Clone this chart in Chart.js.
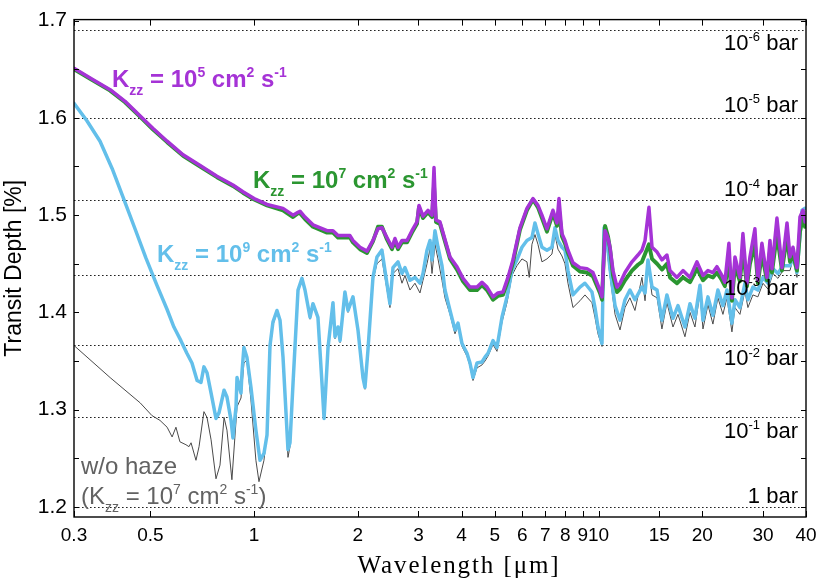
<!DOCTYPE html>
<html>
<head>
<meta charset="utf-8">
<script src="https://cdn.jsdelivr.net/npm/chart.js@4.4.1/dist/chart.umd.min.js"></script>
<style>
  html, body { margin: 0; padding: 0; background: #fff; }
  canvas { display: block; }
</style>
</head>
<body>
<canvas id="graficoTransito" width="830" height="583"></canvas>
<script>
/* ================= DADOS ================= */

// comprimento de onda (um) dos modelos com névoa Kzz = 1e5 e 1e7
const wlHaze = [
  0.300, 0.338, 0.382, 0.422, 0.467, 0.509, 0.559, 0.622, 0.697, 0.780,
  0.868, 0.928, 1.000, 1.090, 1.213,
  1.297, 1.341, 1.359, 1.405, 1.482, 1.628, 1.694, 1.752, 1.898, 1.936,
  2.029, 2.126, 2.213, 2.288, 2.350, 2.430, 2.513, 2.564, 2.616, 2.687,
  2.779, 2.872, 2.970, 3.010, 3.092, 3.197, 3.284, 3.328, 3.372, 3.464,
  3.581, 3.704, 3.881, 4.040, 4.233, 4.436, 4.586, 4.742, 4.937, 5.104,
  5.277, 5.456, 5.641, 5.911, 6.194, 6.448, 6.667, 6.848, 7.080, 7.370,
  7.571, 7.673, 7.828, 7.987, 8.149, 8.426, 8.829, 9.252, 9.631, 10.09,
  10.23, 10.44, 10.65, 10.79, 11.01, 11.31, 11.54, 11.93, 12.50, 13.01,
  13.36, 13.64, 14.00, 14.29, 14.78, 15.27, 15.79, 16.11, 16.88, 17.58,
  18.42, 19.30, 20.09, 20.77, 21.47, 22.05, 22.80, 23.26, 23.89, 24.38,
  24.88, 25.72, 26.24, 26.95, 27.50, 28.43, 29.00, 29.79, 30.81, 31.44,
  31.86, 32.94, 34.06, 35.23, 35.94, 36.67, 37.66, 38.42, 39.21, 39.73
];

const tdKzz5 = [
  1.651, 1.640, 1.629, 1.617, 1.602, 1.589, 1.576, 1.562, 1.551, 1.540,
  1.531, 1.524, 1.517, 1.511, 1.507,
  1.500, 1.503, 1.504, 1.498, 1.490, 1.484, 1.484, 1.479, 1.479, 1.474,
  1.467, 1.463, 1.474, 1.486, 1.487, 1.477, 1.467, 1.476, 1.467, 1.474,
  1.474, 1.484, 1.493, 1.510, 1.499, 1.505, 1.500, 1.549, 1.495, 1.493,
  1.475, 1.457, 1.447, 1.435, 1.426, 1.426, 1.431, 1.426, 1.416, 1.420,
  1.421, 1.436, 1.454, 1.487, 1.507, 1.517, 1.510, 1.500, 1.486, 1.505,
  1.492, 1.517, 1.481, 1.474, 1.464, 1.451, 1.446, 1.445, 1.441, 1.423,
  1.416, 1.484, 1.476, 1.467, 1.443, 1.426, 1.430, 1.441, 1.452, 1.459,
  1.464, 1.474, 1.508, 1.467, 1.462, 1.454, 1.459, 1.443, 1.436, 1.443,
  1.436, 1.452, 1.438, 1.443, 1.441, 1.447, 1.438, 1.431, 1.471, 1.415,
  1.457, 1.436, 1.481, 1.430, 1.457, 1.486, 1.433, 1.471, 1.436, 1.474,
  1.445, 1.497, 1.446, 1.492, 1.457, 1.467, 1.446, 1.498, 1.505, 1.493
];

const tdKzz7 = [
  1.650, 1.639, 1.628, 1.616, 1.601, 1.588, 1.575, 1.561, 1.550, 1.539,
  1.530, 1.523, 1.516, 1.510, 1.505,
  1.498, 1.502, 1.502, 1.496, 1.488, 1.482, 1.482, 1.477, 1.477, 1.472,
  1.465, 1.461, 1.473, 1.488, 1.488, 1.475, 1.465, 1.474, 1.465, 1.472,
  1.472, 1.482, 1.491, 1.508, 1.497, 1.503, 1.498, 1.530, 1.493, 1.491,
  1.473, 1.455, 1.444, 1.432, 1.423, 1.423, 1.428, 1.423, 1.413, 1.417,
  1.418, 1.433, 1.451, 1.485, 1.505, 1.516, 1.508, 1.497, 1.483, 1.502,
  1.489, 1.505, 1.478, 1.471, 1.461, 1.448, 1.442, 1.441, 1.437, 1.420,
  1.413, 1.489, 1.478, 1.466, 1.438, 1.421, 1.424, 1.433, 1.443, 1.449,
  1.452, 1.460, 1.470, 1.455, 1.450, 1.444, 1.450, 1.436, 1.430, 1.436,
  1.431, 1.445, 1.433, 1.438, 1.436, 1.441, 1.433, 1.427, 1.455, 1.412,
  1.448, 1.432, 1.465, 1.427, 1.450, 1.470, 1.430, 1.460, 1.433, 1.463,
  1.441, 1.480, 1.443, 1.478, 1.452, 1.460, 1.443, 1.483, 1.498, 1.488
];

// modelo Kzz = 1e9
const wlKzz9 = [
  0.300, 0.327, 0.357, 0.387, 0.419, 0.451, 0.485, 0.522, 0.559, 0.585,
  0.613, 0.638, 0.660,
  0.683, 0.701, 0.715, 0.730, 0.750, 0.775, 0.791, 0.818, 0.834, 0.857,
  0.868, 0.886, 0.892, 0.916, 0.922, 0.934, 0.953, 0.979, 1.012, 1.040,
  1.068, 1.090, 1.112, 1.134, 1.165, 1.189, 1.213, 1.254, 1.271, 1.297,
  1.341, 1.377, 1.405, 1.453, 1.482, 1.532, 1.574, 1.596, 1.639, 1.694,
  1.717, 1.752, 1.776, 1.835, 1.873, 1.936, 2.002, 2.070, 2.098, 2.140,
  2.213, 2.273, 2.350, 2.398, 2.479, 2.530, 2.616, 2.687, 2.741, 2.834,
  2.930, 3.030, 3.092, 3.176, 3.240, 3.284, 3.350, 3.418, 3.510, 3.581,
  3.704, 3.829, 3.907, 4.013, 4.149, 4.233, 4.319, 4.436, 4.586, 4.679,
  4.774, 4.937, 5.070, 5.242, 5.420, 5.604, 5.794, 5.991, 6.194, 6.405,
  6.535, 6.667, 6.848, 7.080, 7.321, 7.470, 7.621, 7.828, 7.987, 8.149,
  8.426, 8.829, 9.129, 9.566, 9.760, 9.958, 10.23, 10.37, 10.58, 10.79,
  11.16, 11.54, 11.93, 12.33, 12.75, 13.36, 13.64, 13.91, 14.29, 14.78,
  15.27, 15.79, 16.44, 17.00, 17.81, 18.42, 19.04, 19.69, 20.09, 20.77,
  21.47, 22.20, 22.96, 23.58, 24.38, 24.88, 25.72, 26.59, 27.13, 28.05,
  29.00, 30.00, 31.02, 32.07, 33.16, 34.29, 35.94, 36.67, 37.66, 38.95,
  39.73
];

const tdKzz9 = [
  1.615, 1.597, 1.576, 1.548, 1.516, 1.486, 1.456, 1.428, 1.403, 1.385,
  1.371, 1.358, 1.348,
  1.330, 1.328, 1.344, 1.338, 1.317, 1.291, 1.297, 1.320, 1.313, 1.289,
  1.271, 1.303, 1.333, 1.317, 1.338, 1.364, 1.354, 1.323, 1.279, 1.248,
  1.255, 1.274, 1.366, 1.390, 1.402, 1.392, 1.354, 1.259, 1.266, 1.327,
  1.423, 1.435, 1.423, 1.395, 1.409, 1.395, 1.327, 1.291, 1.364, 1.410,
  1.375, 1.385, 1.371, 1.421, 1.402, 1.416, 1.382, 1.333, 1.323, 1.361,
  1.436, 1.457, 1.464, 1.443, 1.409, 1.446, 1.452, 1.440, 1.446, 1.433,
  1.436, 1.430, 1.440, 1.464, 1.474, 1.454, 1.484, 1.467, 1.448, 1.423,
  1.402, 1.382, 1.389, 1.368, 1.358, 1.348, 1.333, 1.348, 1.349, 1.354,
  1.358, 1.371, 1.364, 1.395, 1.416, 1.443, 1.454, 1.467, 1.474, 1.477,
  1.492, 1.481, 1.467, 1.464, 1.467, 1.487, 1.474, 1.467, 1.464, 1.443,
  1.418, 1.426, 1.430, 1.421, 1.405, 1.385, 1.368, 1.487, 1.474, 1.445,
  1.407, 1.392, 1.413, 1.423, 1.413, 1.426, 1.420, 1.454, 1.426, 1.423,
  1.392, 1.418, 1.394, 1.407, 1.385, 1.409, 1.394, 1.428, 1.392, 1.416,
  1.397, 1.423, 1.407, 1.423, 1.389, 1.413, 1.405, 1.430, 1.413, 1.426,
  1.423, 1.436, 1.430, 1.445, 1.440, 1.448, 1.448, 1.459, 1.441, 1.505,
  1.507
];

// sem névoa (Kzz = 1e7)
const wlClear = [
  0.300, 0.382, 0.467, 0.505, 0.533, 0.559, 0.578, 0.593, 0.609, 0.634,
  0.647, 0.656, 0.678, 0.692, 0.715, 0.730, 0.750, 0.775, 0.796, 0.818,
  0.834, 0.862, 0.892, 0.916, 0.934, 0.953, 0.979, 1.012, 1.033, 1.068,
  1.090, 1.112, 1.134, 1.165, 1.189, 1.213, 1.254, 1.271, 1.297, 1.341,
  1.377, 1.405, 1.453, 1.482, 1.532, 1.574, 1.596, 1.639, 1.694, 1.717,
  1.752, 1.776, 1.835, 1.873, 1.936, 2.002, 2.070, 2.098, 2.140, 2.213,
  2.273, 2.350, 2.398, 2.479, 2.530, 2.616, 2.687, 2.741, 2.834, 2.930,
  3.030, 3.092, 3.176, 3.240, 3.284, 3.350, 3.418, 3.510, 3.581, 3.704,
  3.829, 3.907, 4.013, 4.149, 4.233, 4.319, 4.436, 4.586, 4.679, 4.774,
  4.937, 5.070, 5.242, 5.420, 5.604, 5.794, 5.991, 6.194, 6.290, 6.405,
  6.535, 6.667, 6.848, 7.080, 7.321, 7.470, 7.621, 7.828, 7.987, 8.149,
  8.426, 8.829, 9.129, 9.566, 9.760, 9.958, 10.23, 10.37, 10.58, 10.79,
  11.16, 11.54, 11.93, 12.33, 12.75, 13.36, 13.64, 13.91, 14.29, 14.78,
  15.27, 15.79, 16.44, 17.00, 17.81, 18.42, 19.04, 19.69, 20.09, 20.77,
  21.47, 22.20, 22.96, 23.58, 24.38, 24.88, 25.72, 26.59, 27.13, 28.05,
  29.00, 30.00, 31.02, 32.07, 33.16, 34.29, 35.94, 36.67, 37.66, 38.95,
  39.73
];

const tdClear = [
  1.366, 1.333, 1.307, 1.294, 1.289, 1.282, 1.272, 1.282, 1.267, 1.264,
  1.262, 1.266, 1.248, 1.262, 1.298, 1.292, 1.269, 1.229, 1.243, 1.292,
  1.279, 1.228, 1.303, 1.312, 1.348, 1.351, 1.310, 1.248, 1.226, 1.248,
  1.276, 1.361, 1.387, 1.400, 1.390, 1.350, 1.251, 1.262, 1.325, 1.421,
  1.433, 1.421, 1.393, 1.407, 1.393, 1.325, 1.290, 1.362, 1.408, 1.373,
  1.383, 1.369, 1.419, 1.400, 1.414, 1.380, 1.331, 1.321, 1.359, 1.433,
  1.450, 1.455, 1.436, 1.405, 1.440, 1.445, 1.430, 1.438, 1.423, 1.430,
  1.420, 1.433, 1.450, 1.465, 1.440, 1.470, 1.455, 1.433, 1.415, 1.398,
  1.378, 1.386, 1.365, 1.355, 1.345, 1.330, 1.343, 1.346, 1.350, 1.355,
  1.367, 1.360, 1.390, 1.410, 1.438, 1.448, 1.455, 1.452, 1.436, 1.470,
  1.480, 1.470, 1.452, 1.455, 1.460, 1.480, 1.465, 1.458, 1.450, 1.430,
  1.405, 1.412, 1.418, 1.410, 1.395, 1.378, 1.365, 1.480, 1.465, 1.438,
  1.398, 1.382, 1.405, 1.415, 1.402, 1.436, 1.412, 1.450, 1.418, 1.415,
  1.383, 1.410, 1.385, 1.398, 1.375, 1.400, 1.385, 1.420, 1.383, 1.408,
  1.388, 1.415, 1.398, 1.415, 1.380, 1.405, 1.398, 1.422, 1.405, 1.418,
  1.416, 1.430, 1.424, 1.440, 1.435, 1.443, 1.443, 1.455, 1.436, 1.500,
  1.503
];

// eixos
const xTicks = [0.3, 0.5, 1, 2, 3, 4, 5, 6, 7, 8, 9, 10, 15, 20, 30, 40];
const xTickLabels = ["0.3", "0.5", "1", "2", "3", "4", "5", "6", "7", "8", "9", "10", "15", "20", "30", "40"];
const yTicks = [1.2, 1.25, 1.3, 1.35, 1.4, 1.45, 1.5, 1.55, 1.6, 1.65, 1.7];

// níveis de pressão (profundidade de trânsito correspondente)
const pressureDepth = [1.6904, 1.5996, 1.5152, 1.4389, 1.366, 1.2924, 1.2003];
const pressureExp = ["-6", "-5", "-4", "-3", "-2", "-1", ""];

/* ================= UTIL ================= */

const FONT = "'Liberation Sans', Arial, Helvetica, sans-serif";
const SERIF = "'Liberation Serif', 'Times New Roman', serif";

function pontos(xs, ys) {
  return xs.map((x, i) => ({ x, y: ys[i] }));
}

// texto com sub/sobrescrito: partes = [[texto, "n"|"sup"|"sub"], ...]
function textoRico(ctx, partes, x, y, size, weight, color, align) {
  const fonte = p => `${weight} ${p[1] === "n" ? size : Math.round(size * 0.6)}px ${FONT}`;
  let total = 0;
  partes.forEach(p => { ctx.font = fonte(p); total += ctx.measureText(p[0]).width; });
  let cx = align === "right" ? x - total : x;
  ctx.fillStyle = color;
  ctx.textAlign = "left";
  ctx.textBaseline = "alphabetic";
  partes.forEach(p => {
    ctx.font = fonte(p);
    const dy = p[1] === "sup" ? -size * 0.4 : p[1] === "sub" ? size * 0.32 : 0;
    ctx.fillText(p[0], cx, y + dy);
    cx += ctx.measureText(p[0]).width;
  });
}

function rotuloKzz(exp) {
  return [["K", "n"], ["zz", "sub"], [" = 10", "n"], [exp, "sup"], [" cm", "n"], ["2", "sup"], [" s", "n"], ["-1", "sup"]];
}

/* ================= PLUGINS ================= */

const linhasPressao = {
  id: "linhasPressao",
  beforeDatasetsDraw(chart) {
    const { ctx, chartArea: a, scales: { y } } = chart;
    ctx.save();
    ctx.strokeStyle = "#222";
    ctx.lineWidth = 1.2;
    ctx.setLineDash([1.6, 2.4]);
    pressureDepth.forEach(v => {
      const py = Math.round(y.getPixelForValue(v)) + 0.5;
      ctx.beginPath();
      ctx.moveTo(a.left, py);
      ctx.lineTo(a.right, py);
      ctx.stroke();
    });
    ctx.restore();
  },
  afterDatasetsDraw(chart) {
    const { ctx, chartArea: a, scales: { y } } = chart;
    const desloc = [20, -6, -4, 20, 20, 21, -4];
    ctx.save();
    pressureDepth.forEach((v, i) => {
      const py = y.getPixelForValue(v) + desloc[i];
      const partes = pressureExp[i]
        ? [["10", "n"], [pressureExp[i], "sup"], [" bar", "n"]]
        : [["1 bar", "n"]];
      textoRico(ctx, partes, a.right - 8, py, 22, "normal", "#000", "right");
    });
    ctx.restore();
  }
};

const moldura = {
  id: "moldura",
  afterDraw(chart) {
    const { ctx, chartArea: a, scales: { x, y } } = chart;
    ctx.save();
    ctx.strokeStyle = "#000";
    ctx.lineWidth = 1.4;
    ctx.strokeRect(a.left, a.top, a.right - a.left, a.bottom - a.top);
    ctx.lineWidth = 1;
    ctx.beginPath();
    yTicks.forEach(v => {
      const py = Math.round(y.getPixelForValue(v)) + 0.5;
      ctx.moveTo(a.left, py); ctx.lineTo(a.left + 5, py);
      ctx.moveTo(a.right, py); ctx.lineTo(a.right - 5, py);
    });
    xTicks.forEach(v => {
      const px = Math.round(x.getPixelForValue(v)) + 0.5;
      ctx.moveTo(px, a.bottom); ctx.lineTo(px, a.bottom - 6);
      ctx.moveTo(px, a.top); ctx.lineTo(px, a.top + 6);
    });
    ctx.stroke();

    // anotações
    textoRico(ctx, rotuloKzz("5"), 112, 87, 24, "bold", "#a533d6");
    textoRico(ctx, rotuloKzz("7"), 253, 188, 24, "bold", "#2b9631");
    textoRico(ctx, rotuloKzz("9"), 157, 262, 24, "bold", "#63bfea");
    textoRico(ctx, [["w/o haze", "n"]], 81, 474, 24, "normal", "#626262");
    textoRico(ctx, [["(K", "n"], ["zz", "sub"], [" = 10", "n"], ["7", "sup"], [" cm", "n"], ["2", "sup"], [" s", "n"], ["-1", "sup"], [")", "n"]],
      81, 504, 24, "normal", "#626262");

    // título do eixo x
    ctx.font = `25px ${SERIF}`;
    ctx.fillStyle = "#000";
    ctx.textAlign = "center";
    ctx.textBaseline = "alphabetic";
    ctx.letterSpacing = "1.9px";
    ctx.fillText("Wavelength [\u03bcm]", 459, 573);
    ctx.restore();
  }
};

/* ================= GRÁFICO ================= */

new Chart(document.getElementById("graficoTransito"), {
  type: "line",
  data: {
    datasets: [
      { label: "Kzz = 1e5", data: pontos(wlHaze, tdKzz5), borderColor: "#a533d6", borderWidth: 3.5 },
      { label: "Kzz = 1e7", data: pontos(wlHaze, tdKzz7), borderColor: "#2b9631", borderWidth: 3.9 },
      { label: "Kzz = 1e9", data: pontos(wlKzz9, tdKzz9), borderColor: "#63bfea", borderWidth: 3.5 },
      { label: "w/o haze", data: pontos(wlClear, tdClear), borderColor: "#4a4a4a", borderWidth: 1 }
    ]
  },
  options: {
    responsive: false,
    animation: false,
    devicePixelRatio: 1,
    layout: { padding: { top: 19, right: 24, left: 0, bottom: 0 } },
    elements: {
      point: { radius: 0 },
      line: { tension: 0, borderJoinStyle: "round", borderCapStyle: "round", fill: false }
    },
    plugins: {
      legend: { display: false },
      tooltip: { enabled: false }
    },
    scales: {
      x: {
        type: "logarithmic",
        min: 0.3,
        max: 40,
        grid: { display: false, drawTicks: false },
        border: { display: false },
        afterBuildTicks: s => { s.ticks = xTicks.map(v => ({ value: v })); },
        afterFit: s => { s.height = 66; },
        ticks: {
          autoSkip: false,
          maxRotation: 0,
          padding: 7,
          color: "#000",
          font: { family: FONT, size: 19 },
          callback: (v, i) => xTickLabels[i]
        }
      },
      y: {
        min: 1.1897,
        max: 1.701,
        grid: { display: false, drawTicks: false },
        border: { display: false },
        afterBuildTicks: s => { s.ticks = yTicks.map(v => ({ value: v })); },
        afterFit: s => { s.width = 74; },
        title: {
          display: true,
          text: "Transit Depth [%]",
          color: "#000",
          font: { family: FONT, size: 23 },
          padding: { top: 1, bottom: 0 }
        },
        ticks: {
          padding: 7,
          color: "#000",
          font: { family: FONT, size: 21 },
          callback: v => Math.abs(v * 10 - Math.round(v * 10)) < 1e-6 ? v.toFixed(1) : ""
        }
      }
    }
  },
  plugins: [linhasPressao, moldura]
});
</script>
</body>
</html>
